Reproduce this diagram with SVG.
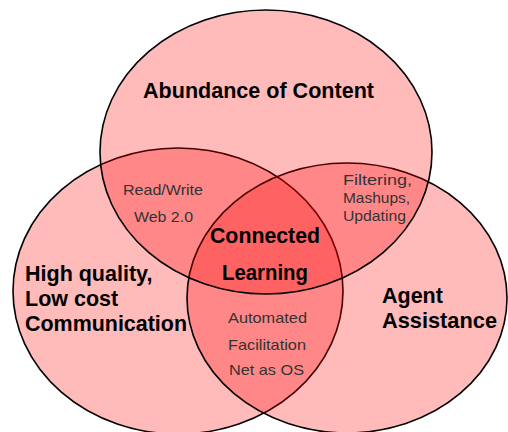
<svg xmlns="http://www.w3.org/2000/svg" width="508" height="432" viewBox="0 0 508 432">
  <style>
    .set { fill: #ff0000; fill-opacity: 0.27; stroke: #000; stroke-width: 1.6; }
    .big { font-family: "Liberation Sans", Arial, sans-serif; font-weight: bold; font-size: 21.5px; fill: #000; }
    .small { font-family: "Liberation Sans", Arial, sans-serif; font-size: 14.5px; fill: #333; }
  </style>
  <rect x="0" y="0" width="508" height="432" fill="#fff"/>
  <g id="left-set">
    <ellipse class="set" cx="178" cy="291" rx="165" ry="143"/>
  </g>
  <g id="right-set">
    <ellipse class="set" cx="347" cy="298" rx="160" ry="135"/>
  </g>
  <g id="top-set">
    <ellipse class="set" cx="266" cy="152" rx="166" ry="142"/>
  </g>
  <g id="connectors"></g>
  <g id="label-top">
    <text class="big" x="143" y="98" textLength="231" lengthAdjust="spacingAndGlyphs">Abundance of Content</text>
  </g>
  <g id="label-left">
    <text class="big" x="25" y="281">High quality,</text>
    <text class="big" x="25" y="306">Low cost</text>
    <text class="big" x="25" y="331" textLength="162" lengthAdjust="spacingAndGlyphs">Communication</text>
  </g>
  <g id="label-right">
    <text class="big" x="382" y="303">Agent</text>
    <text class="big" x="382" y="328" textLength="115" lengthAdjust="spacingAndGlyphs">Assistance</text>
  </g>
  <g id="label-center">
    <text class="big" x="210" y="243" textLength="110" lengthAdjust="spacingAndGlyphs">Connected</text>
    <text class="big" x="222" y="280" textLength="86" lengthAdjust="spacingAndGlyphs">Learning</text>
  </g>
  <g id="label-top-left">
    <text class="small" x="123" y="195" textLength="80" lengthAdjust="spacingAndGlyphs">Read/Write</text>
    <text class="small" x="134" y="222" textLength="59" lengthAdjust="spacingAndGlyphs">Web 2.0</text>
  </g>
  <g id="label-top-right">
    <text class="small" x="343" y="185" textLength="69" lengthAdjust="spacingAndGlyphs">Filtering,</text>
    <text class="small" x="343" y="203" textLength="67" lengthAdjust="spacingAndGlyphs">Mashups,</text>
    <text class="small" x="343" y="221" textLength="63" lengthAdjust="spacingAndGlyphs">Updating</text>
  </g>
  <g id="label-bottom">
    <text class="small" x="228" y="323" textLength="79" lengthAdjust="spacingAndGlyphs">Automated</text>
    <text class="small" x="228" y="350" textLength="78" lengthAdjust="spacingAndGlyphs">Facilitation</text>
    <text class="small" x="229" y="375" textLength="75" lengthAdjust="spacingAndGlyphs">Net as OS</text>
  </g>
</svg>
